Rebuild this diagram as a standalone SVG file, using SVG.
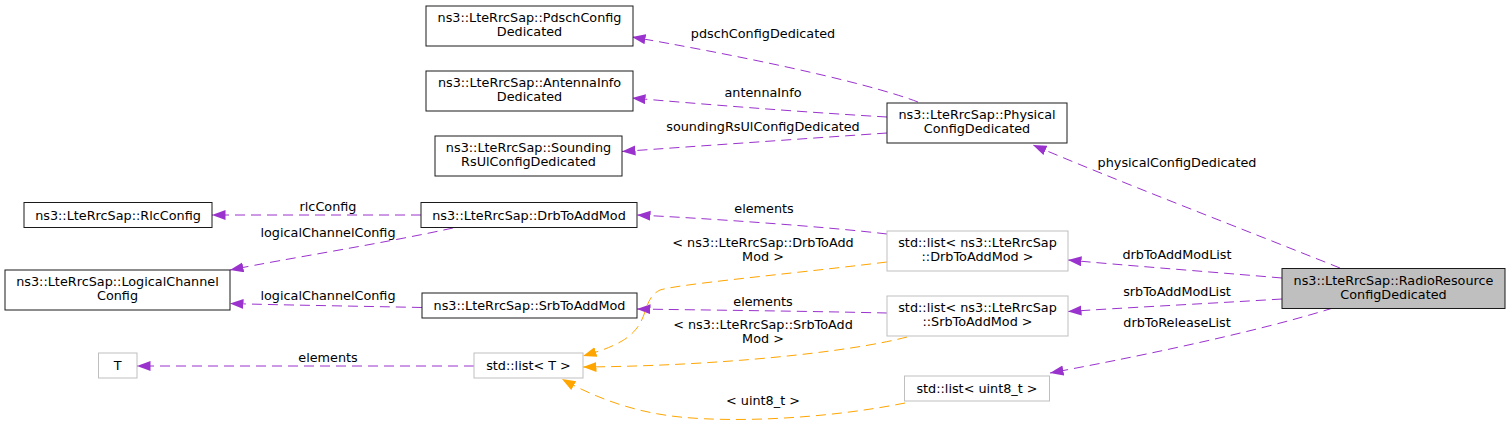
<svg xmlns="http://www.w3.org/2000/svg" width="1511" height="424" viewBox="0 0 1511 424">
<style>
text{font-family:"DejaVu Sans","Liberation Sans",sans-serif;font-size:12.8px;fill:#000;text-anchor:middle}
.n{fill:#fff;stroke:#1a1a1a;stroke-width:1}
.u{fill:#fff;stroke:#bfbfbf;stroke-width:1}
.m{fill:#bfbfbf;stroke:#1a1a1a;stroke-width:1}
.p{fill:none;stroke:#9a32cd;stroke-width:1;stroke-dasharray:10,6}
.o{fill:none;stroke:#ffa500;stroke-width:1;stroke-dasharray:10,6}
</style>
<defs>
<marker id="ap" markerUnits="userSpaceOnUse" markerWidth="14" markerHeight="11" refX="13.5" refY="5" orient="auto"><path d="M0,0 L13.5,5 L0,10 z" fill="#9a32cd"/></marker>
<marker id="ao" markerUnits="userSpaceOnUse" markerWidth="14" markerHeight="11" refX="13.5" refY="5" orient="auto"><path d="M0,0 L13.5,5 L0,10 z" fill="#ffa500"/></marker>
</defs>
<rect width="1511" height="424" fill="#fff"/>
<g id="connectors">
<path class="p" marker-end="url(#ap)" d="M918,102 C860,80 720,52 632,37"/>
<text x="763" y="38">pdschConfigDedicated</text>
<path class="p" marker-end="url(#ap)" d="M887,117 C800,112 700,104 632,98"/>
<text x="763" y="97">antennaInfo</text>
<path class="p" marker-end="url(#ap)" d="M887,133 C800,139 700,146 622,151.5"/>
<text x="763" y="131">soundingRsUlConfigDedicated</text>
<path class="p" marker-end="url(#ap)" d="M1340,268 C1250,232 1110,178 1033,145"/>
<text x="1177" y="167">physicalConfigDedicated</text>
<path class="p" marker-end="url(#ap)" d="M1282,278 C1200,271 1120,265 1068,260"/>
<text x="1177" y="259">drbToAddModList</text>
<path class="p" marker-end="url(#ap)" d="M1282,299 C1200,304 1120,308 1068,311.5"/>
<text x="1177" y="296">srbToAddModList</text>
<path class="p" marker-end="url(#ap)" d="M1333,308 C1250,334 1120,360 1050,373"/>
<text x="1177" y="327">drbToReleaseList</text>
<path class="p" marker-end="url(#ap)" d="M887,234 C820,226 700,218 637,215"/>
<text x="764" y="213">elements</text>
<path class="p" marker-end="url(#ap)" d="M887,313 C800,311 700,310 637,309"/>
<text x="763" y="306">elements</text>
<path class="p" marker-end="url(#ap)" d="M421,215 L212,215"/>
<text x="328" y="211">rlcConfig</text>
<path class="p" marker-end="url(#ap)" d="M453,228 C380,244 290,258 230,270"/>
<text x="328" y="237">logicalChannelConfig</text>
<path class="p" marker-end="url(#ap)" d="M422,307.5 C350,306 280,305 230,303.5"/>
<text x="328" y="300">logicalChannelConfig</text>
<path class="p" marker-end="url(#ap)" d="M474,366 L137,366"/>
<text x="328" y="362">elements</text>
<path class="o" marker-end="url(#ao)" d="M887,262 C780,275 680,284 660,290 C640,300 652,323 622,341 C608,349 596,352 583,356"/>
<text x="763" y="247">&lt; ns3::LteRrcSap::DrbToAdd</text>
<text x="763" y="261">Mod &gt;</text>
<path class="o" marker-end="url(#ao)" d="M907,337 C850,352 720,366 583,367"/>
<text x="763" y="329">&lt; ns3::LteRrcSap::SrbToAdd</text>
<text x="763" y="343">Mod &gt;</text>
<path class="o" marker-end="url(#ao)" d="M905,403 C830,418 740,423 680,417 C630,412 590,395 562,379"/>
<text x="763" y="405">&lt; uint8_t &gt;</text>
</g>
<g id="node-radio"><rect class="m" x="1282" y="268.5" width="223" height="40"/><text x="1393.5" y="284.5">ns3::LteRrcSap::RadioResource</text><text x="1393.5" y="298.5">ConfigDedicated</text></g>
<g id="node-physical"><rect class="n" x="887" y="103" width="180" height="40"/><text x="977" y="119">ns3::LteRrcSap::Physical</text><text x="977" y="133">ConfigDedicated</text></g>
<g id="node-pdsch"><rect class="n" x="426" y="6" width="207" height="40"/><text x="529.5" y="22">ns3::LteRrcSap::PdschConfig</text><text x="529.5" y="36">Dedicated</text></g>
<g id="node-antenna"><rect class="n" x="426" y="71" width="207" height="40"/><text x="529.5" y="87">ns3::LteRrcSap::AntennaInfo</text><text x="529.5" y="101">Dedicated</text></g>
<g id="node-sounding"><rect class="n" x="435" y="136" width="187" height="40"/><text x="528.5" y="152">ns3::LteRrcSap::Sounding</text><text x="528.5" y="166">RsUlConfigDedicated</text></g>
<g id="node-drblist"><rect class="u" x="887" y="231" width="181" height="40"/><text x="977.5" y="247">std::list&lt; ns3::LteRrcSap</text><text x="977.5" y="261">::DrbToAddMod &gt;</text></g>
<g id="node-srblist"><rect class="u" x="887" y="296" width="181" height="40"/><text x="977.5" y="312">std::list&lt; ns3::LteRrcSap</text><text x="977.5" y="326">::SrbToAddMod &gt;</text></g>
<g id="node-uint8list"><rect class="u" x="904.5" y="376" width="145" height="25"/><text x="977" y="393">std::list&lt; uint8_t &gt;</text></g>
<g id="node-rlc"><rect class="n" x="24" y="202.5" width="188" height="25"/><text x="118" y="219.5">ns3::LteRrcSap::RlcConfig</text></g>
<g id="node-drb"><rect class="n" x="421" y="202.5" width="216" height="25"/><text x="529" y="219.5">ns3::LteRrcSap::DrbToAddMod</text></g>
<g id="node-logical"><rect class="n" x="5" y="270" width="225" height="40"/><text x="117.5" y="286">ns3::LteRrcSap::LogicalChannel</text><text x="117.5" y="300">Config</text></g>
<g id="node-srb"><rect class="n" x="422" y="293" width="215" height="25"/><text x="529.5" y="310">ns3::LteRrcSap::SrbToAddMod</text></g>
<g id="node-t"><rect class="u" x="98.5" y="353" width="38.5" height="25"/><text x="117.75" y="370">T</text></g>
<g id="node-listt"><rect class="u" x="474" y="353" width="109" height="25"/><text x="528.5" y="370">std::list&lt; T &gt;</text></g>
</svg>
